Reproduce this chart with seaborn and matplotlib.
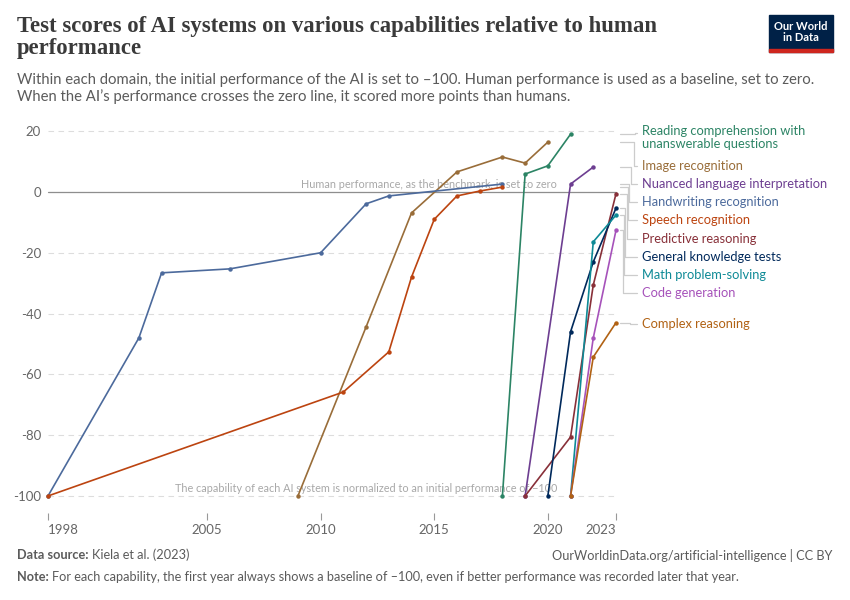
import matplotlib
matplotlib.use("Agg")
import matplotlib.pyplot as plt
from matplotlib.lines import Line2D
from matplotlib.patches import Rectangle
import seaborn as sns
import pandas as pd

# ---------------------------------------------------------------
# data
# ---------------------------------------------------------------
handwriting_years = [1998, 2002, 2003, 2006, 2010, 2012, 2013, 2018]
handwriting = [-100, -48, -26.6, -25.3, -20, -3.9, -1.3, 2.6]

speech_years = [1998, 2011, 2013, 2014, 2015, 2016, 2017, 2018]
speech = [-100, -65.8, -52.6, -28, -9, -1.3, 0.3, 1.6]

image_years = [2009, 2012, 2014, 2016, 2018, 2019, 2020]
image = [-100, -44.4, -6.9, 6.6, 11.5, 9.5, 16.4]

reading_years = [2018, 2019, 2020, 2021]
reading = [-100, 5.9, 8.6, 19]

nuanced_years = [2019, 2021, 2022]
nuanced = [-100, 2.6, 8.2]

predictive_years = [2019, 2021, 2022, 2023]
predictive = [-100, -80.6, -30.6, -0.6]

general_years = [2020, 2021, 2022, 2023]
general = [-100, -46, -23, -5.3]

math_years = [2021, 2022, 2023]
math_ps = [-100, -16.4, -7.6]

code_years = [2021, 2022, 2023]
code = [-100, -48, -12.6]

complex_years = [2021, 2022, 2023]
complex_r = [-100, -54.3, -43]

series = {
    "Reading comprehension with unanswerable questions": (reading_years, reading),
    "Image recognition": (image_years, image),
    "Nuanced language interpretation": (nuanced_years, nuanced),
    "Handwriting recognition": (handwriting_years, handwriting),
    "Speech recognition": (speech_years, speech),
    "Predictive reasoning": (predictive_years, predictive),
    "General knowledge tests": (general_years, general),
    "Math problem-solving": (math_years, math_ps),
    "Code generation": (code_years, code),
    "Complex reasoning": (complex_years, complex_r),
}

palette = {
    "Reading comprehension with unanswerable questions": "#2C8465",
    "Image recognition": "#996D39",
    "Nuanced language interpretation": "#6D3E91",
    "Handwriting recognition": "#4C6A9C",
    "Speech recognition": "#BC4410",
    "Predictive reasoning": "#883039",
    "General knowledge tests": "#00295B",
    "Math problem-solving": "#0E8A96",
    "Code generation": "#A652BA",
    "Complex reasoning": "#B16214",
}

label_text = {
    "Reading comprehension with unanswerable questions": "Reading comprehension with\nunanswerable questions",
}

x_ticks = [1998, 2005, 2010, 2015, 2020, 2023]
y_ticks = [20, 0, -20, -40, -60, -80, -100]

rows = []
for name, (yrs, vals) in series.items():
    for yr, v in zip(yrs, vals):
        rows.append({"capability": name, "year": yr, "score": v})
df = pd.DataFrame(rows)

# ---------------------------------------------------------------
# figure
# ---------------------------------------------------------------
sns.set_theme(style="white")
plt.rcParams["font.family"] = ["Lato", "DejaVu Sans"]

W, H = 850, 600
fig = plt.figure(figsize=(W / 100, H / 100), dpi=100)


def fx(px):
    return px / W


def fy(py):
    return 1 - py / H


ax_left, ax_right, ax_top, ax_bottom = 48, 616, 126, 506
ax = fig.add_axes([fx(ax_left), fy(ax_bottom), fx(ax_right - ax_left), (ax_bottom - ax_top) / H])
ax.set_xlim(1998, 2023)
ax.set_ylim(-103.3, 21.7)

for t in y_ticks:
    ax.axhline(t, color="#DDDDDD", lw=0.8, ls=(0, (5, 4)), zorder=0)
ax.axhline(0, color="#8E8E8E", lw=0.9, zorder=1)

ax.text(2020.4, 0.8, "Human performance, as the benchmark, is set to zero",
        ha="right", va="bottom", fontsize=7.8, color="#A8A8A8", zorder=1)
ax.text(2020.4, -99.3, "The capability of each AI system is normalized to an initial performance of \u2212100",
        ha="right", va="bottom", fontsize=7.8, color="#A8A8A8", zorder=1)

sns.lineplot(data=df, x="year", y="score", hue="capability", palette=palette,
             hue_order=list(series.keys()), units="capability", estimator=None,
             marker="o", markersize=3.2, markeredgewidth=0, linewidth=1.2,
             legend=False, ax=ax, zorder=3)
for ln in ax.lines:
    ln.set_clip_on(False)

for s in ax.spines.values():
    s.set_visible(False)
ax.spines["bottom"].set_position(("outward", 5))
ax.set_xticks(x_ticks)
ax.set_xticklabels([str(t) for t in x_ticks])
ax.set_yticks(y_ticks)
ax.set_yticklabels([str(t) for t in y_ticks])
ax.tick_params(axis="x", length=5, width=0.8, color="#999999", labelsize=9.5,
               labelcolor="#666666", pad=3, bottom=True)
ax.tick_params(axis="y", length=0, labelsize=9.5, labelcolor="#666666", pad=5)
xl = ax.get_xticklabels()
xl[0].set_ha("left")
xl[-1].set_ha("right")
ax.set_xlabel("")
ax.set_ylabel("")

# ---------------------------------------------------------------
# right-hand labels with connectors
# ---------------------------------------------------------------
label_py = {
    "Reading comprehension with unanswerable questions": 133,
    "Image recognition": 166,
    "Nuanced language interpretation": 184,
    "Handwriting recognition": 202,
    "Speech recognition": 220,
    "Predictive reasoning": 239,
    "General knowledge tests": 257,
    "Math problem-solving": 275,
    "Code generation": 293,
    "Complex reasoning": 324,
}
mid_px = {
    "Reading comprehension with unanswerable questions": 635,
    "Image recognition": 634,
    "Nuanced language interpretation": 631,
    "Handwriting recognition": 629,
    "Speech recognition": 628,
    "Predictive reasoning": 627,
    "General knowledge tests": 625,
    "Math problem-solving": 624,
    "Code generation": 623,
    "Complex reasoning": 630,
}

fig.canvas.draw()
for name, (yrs, vals) in series.items():
    _, disp_y = ax.transData.transform((2023, vals[-1]))
    py0 = H - disp_y
    py1 = label_py[name]
    xm = mid_px[name]
    fig.add_artist(Line2D([fx(620), fx(xm), fx(xm), fx(637)],
                          [fy(py0), fy(py0), fy(py1), fy(py1)],
                          color="#CCCCCC", lw=0.9))
    txt = label_text.get(name, name)
    if "\n" in txt:
        fig.text(fx(642), fy(py1 - 8), txt, ha="left", va="top", fontsize=9.25,
                 color=palette[name], linespacing=1.08)
    else:
        fig.text(fx(642), fy(py1), txt, ha="left", va="center", fontsize=9.25,
                 color=palette[name])

# ---------------------------------------------------------------
# header / footer
# ---------------------------------------------------------------
fig.text(fx(17), fy(16), "Test scores of AI systems on various capabilities relative to human\nperformance",
         ha="left", va="top", fontsize=16.4, fontweight="bold", color="#3A3A3A",
         family=["Liberation Serif", "DejaVu Serif"], linespacing=1.05)
fig.text(fx(17), fy(73), "Within each domain, the initial performance of the AI is set to \u2013100. "
         "Human performance is used as a baseline, set to zero.\n"
         "When the AI\u2019s performance crosses the zero line, it scored more points than humans.",
         ha="left", va="top", fontsize=10.7, color="#5B5B5B", linespacing=1.17)

fig.add_artist(Rectangle((fx(769), fy(52)), fx(64), (52 - 15) / H, color="#002147",
                         transform=fig.transFigure))
fig.add_artist(Rectangle((fx(769), fy(52)), fx(64), 3 / H, color="#CE261E",
                         transform=fig.transFigure))
fig.text(fx(801), fy(32), "Our World\nin Data", ha="center", va="center", fontsize=8,
         fontweight="bold", color="white", linespacing=1.0)

renderer = fig.canvas.get_renderer()


def bold_then_plain(px, py, bold, plain, size=9.2):
    b = fig.text(fx(px), fy(py), bold, ha="left", va="center", fontsize=size,
                 fontweight="bold", color="#5B5B5B")
    bw = b.get_window_extent(renderer=renderer).width
    fig.text(fx(px + bw + 3), fy(py), plain, ha="left", va="center", fontsize=size,
             color="#5B5B5B")


bold_then_plain(17, 555, "Data source:", "Kiela et al. (2023)")
fig.text(fx(832), fy(555), "OurWorldinData.org/artificial-intelligence | CC BY", ha="right",
         va="center", fontsize=9.2, color="#5B5B5B")
bold_then_plain(17, 577, "Note:", "For each capability, the first year always shows a baseline of "
                "\u2013100, even if better performance was recorded later that year.")

fig.savefig("out.png", dpi=100)
